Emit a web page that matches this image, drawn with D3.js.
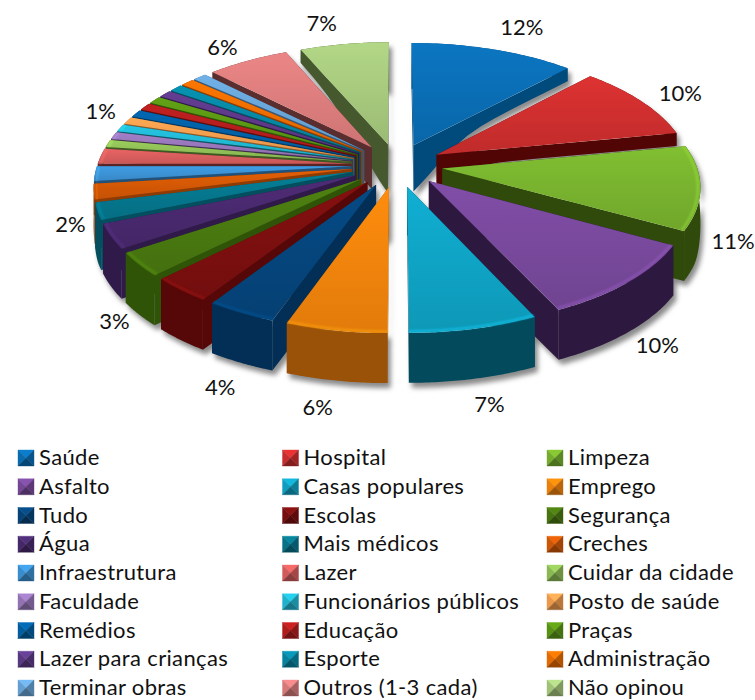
<!DOCTYPE html>
<html>
<head>
<meta charset="utf-8">
<script src="https://cdn.jsdelivr.net/npm/d3@7"></script>
<style>
  html, body { margin: 0; padding: 0; background: #fff; overflow: hidden; }
  text { font-family: Lato, "Open Sans", sans-serif; fill: #111; }
</style>
</head>
<body>
<div id="chart"></div>
<script>
// answers, in chart order (percent)
const categories = ['Saúde', 'Hospital', 'Limpeza', 'Asfalto', 'Casas populares', 'Emprego',
    'Tudo', 'Escolas', 'Segurança', 'Água', 'Mais médicos', 'Creches',
    'Infraestrutura', 'Lazer', 'Cuidar da cidade', 'Faculdade', 'Funcionários públicos', 'Posto de saúde',
    'Remédios', 'Educação', 'Praças', 'Lazer para crianças', 'Esporte', 'Administração',
    'Terminar obras', 'Outros (1-3 cada)', 'Não opinou'];
const values = [12, 10, 11, 10, 7, 5.5,
    3.8, 3.3, 3.1, 3.2, 2.2, 2,
    1.9, 2, 0.95, 0.95, 0.95, 0.95,
    0.95, 0.95, 0.95, 0.95, 0.95, 0.95,
    1, 6, 6.5];
const colors = ['#0a70b8', '#d22f2f', '#7ab52f', '#7a4a9e', '#0fa6c8', '#f7860c',
    '#05467e', '#7e0f0f', '#4a7a10', '#4a2a70', '#05788f', '#d85a05',
    '#3d95d8', '#dd5f5f', '#92c257', '#9a78bd', '#22bcd8', '#f9a04f',
    '#0062a8', '#b81e1e', '#5c9a14', '#5f3a8a', '#078aa8', '#f07000',
    '#6aa8dc', '#e07f7f', '#a9cc7f'];
const wallColors = ['#014a7c', '#520505', '#2f4a0a', '#2d1840', '#024a5c', '#9a5208',
    '#032e55', '#560808', '#2f5408', '#2f1a4a', '#034f60', '#8e3c04',
    '#22527a', '#5a2424', '#3e5a22', '#403050', '#0c5a68', '#8a5a2a',
    '#003a66', '#5e0c0c', '#2f5408', '#2f1a4a', '#034f60', '#8e3c04',
    '#38597a', '#5a2e2e', '#46592e'];
const labelTexts = ['12%', '10%', '11%', '10%', '7%', '6%', '4%', '3%', '2%', '1%', '6%', '7%'];
const labelSlices = [0, 1, 2, 3, 4, 5, 6, 8, 10, 15, 25, 26];
// the labels do not follow one rule in the original, so each gets a small shift
const labelShiftX = [20, 16, 1, 2, 6, -11, -2, 5, 5, 15, -12, -18];
const labelShiftY = [-13, -3, 20, 19, 25, 26, 26, 15, -23, -22, -5, -11];

const width = 755, height = 700;
const cx = 397, cy = 165, rx = 254, ry = 120.6, persp = 0.132;
const explode = 0.18, labelRadius = 1.3;

const svg = d3.select('#chart').append('svg')
    .attr('width', width)
    .attr('height', height);
const defs = svg.append('defs');

defs.append('filter').attr('id', 'soft')
    .attr('x', '-20%').attr('y', '-20%').attr('width', '140%').attr('height', '140%')
    .append('feGaussianBlur').attr('stdDeviation', 2.5);
defs.append('filter').attr('id', 'rim')
    .append('feGaussianBlur').attr('stdDeviation', 1);

// flat pie plane -> screen, the back of the pie shrinks a bit
function project(u, v) {
    const w = 1 / (1 - persp * v);
    return [cx + rx * u * w, cy + ry * v * w];
}

function smooth(t) {
    t = Math.max(0, Math.min(1, t));
    return t * t * (3 - 2 * t);
}

// thickness of the pie: thin at the back, thick at the front and along the middle
function depth(u, v) {
    const front = smooth((v + 0.1) / 0.5);
    const middle = Math.exp(-(u * u) / 0.04);
    return 13 + 37 * Math.max(front, middle);
}

function planePoint(slice, angle, r) {
    const mid = (slice.startAngle + slice.endAngle) / 2;
    return [explode * Math.sin(mid) + r * Math.sin(angle),
        -explode * Math.cos(mid) - r * Math.cos(angle)];
}

const topPoint = (slice, a, r) => project(...planePoint(slice, a, r));
function bottomPoint(slice, a, r) {
    const [u, v] = planePoint(slice, a, r);
    const p = project(u, v);
    return [p[0], p[1] + depth(u, v)];
}

const line = d3.line();
const pie = d3.pie().sort(null).value(d => d);

const slices = pie(values).map((s, i) => {
    const angles = d3.range(41).map(k => s.startAngle + (s.endAngle - s.startAngle) * k / 40);
    const radii = d3.range(13).map(k => k / 12);
    return {...s, i, angles, radii, mid: (s.startAngle + s.endAngle) / 2};
});

slices.forEach(s => {
    const grad = defs.append('linearGradient').attr('id', `top-${s.i}`)
        .attr('x1', 0).attr('y1', 0).attr('x2', 0).attr('y2', 1);
    grad.append('stop').attr('offset', 0).attr('stop-color', d3.rgb(colors[s.i]).brighter(0.15));
    grad.append('stop').attr('offset', 1).attr('stop-color', d3.rgb(colors[s.i]).darker(0.25));
});

function radialWall(s, a) {
    const upper = s.radii.map(r => topPoint(s, a, r));
    const lower = s.radii.map(r => bottomPoint(s, a, r)).reverse();
    return line(upper.concat(lower)) + 'Z';
}

function outerWall(s) {
    const upper = s.angles.map(a => topPoint(s, a, 1));
    const lower = s.angles.map(a => bottomPoint(s, a, 1)).reverse();
    return line(upper.concat(lower)) + 'Z';
}

function topFace(s) {
    const rim = s.angles.map(a => topPoint(s, a, 1));
    return line([topPoint(s, s.startAngle, 0)].concat(rim)) + 'Z';
}

// back slices first so the front ones paint over them
const order = slices.slice().sort((a, b) => Math.cos(b.mid) - Math.cos(a.mid));

const shadow = svg.append('g').attr('filter', 'url(#soft)').attr('transform', 'translate(3,5)');
order.forEach(s => {
    shadow.append('path').attr('d', outerWall(s)).attr('fill', '#8a8a8a');
    shadow.append('path').attr('d', radialWall(s, s.startAngle)).attr('fill', '#8a8a8a');
    shadow.append('path').attr('d', radialWall(s, s.endAngle)).attr('fill', '#8a8a8a');
});

const pieGroup = svg.append('g');
order.forEach(s => {
    const g = pieGroup.append('g');
    g.append('path').attr('d', radialWall(s, s.startAngle)).attr('fill', wallColors[s.i]);
    g.append('path').attr('d', radialWall(s, s.endAngle)).attr('fill', wallColors[s.i]);
    g.append('path').attr('d', outerWall(s)).attr('fill', wallColors[s.i]);
    g.append('path').attr('d', topFace(s)).attr('fill', `url(#top-${s.i})`);
    if (Math.cos(s.mid) < 0.3) {
        g.append('path')
            .attr('d', line(s.angles.map(a => topPoint(s, a, 0.99))))
            .attr('fill', 'none')
            .attr('stroke', d3.rgb(colors[s.i]).brighter(0.7))
            .attr('stroke-width', 2)
            .attr('opacity', 0.6)
            .attr('filter', 'url(#rim)');
    }
});

// percent labels sit outside the rim of their slice
labelTexts.forEach((t, i) => {
    const s = slices[labelSlices[i]];
    const [u, v] = planePoint(s, s.mid, labelRadius - explode);
    const [x, y] = project(u, v);
    const extra = Math.cos(s.mid) < 0 ? 30 : 0;
    svg.append('text')
        .attr('x', x + labelShiftX[i])
        .attr('y', y + extra + labelShiftY[i])
        .attr('text-anchor', 'middle')
        .attr('dominant-baseline', 'central')
        .attr('font-size', 22)
        .text(t);
});

// legend, 3 columns by 9 rows
const legendX = d3.scalePoint().domain([0, 1, 2]).range([18, 547]);
const legendY = d3.scalePoint().domain(d3.range(9)).range([465, 695]);
const box = 16;

categories.forEach((name, i) => {
    const col = i % 3, row = Math.floor(i / 3);
    const x = legendX(col), y = legendY(row) - 15;
    const g = svg.append('g').attr('transform', `translate(${x},${y})`);
    const c = d3.rgb(colors[i]);
    const m = box / 2;
    const tri = (pts, fill) => g.append('path').attr('d', line(pts) + 'Z')
        .attr('fill', fill).attr('stroke', fill).attr('stroke-width', 0.4);
    tri([[0, 0], [box, 0], [m, m]], c.brighter(0.3));
    tri([[0, 0], [0, box], [m, m]], c.darker(0.15));
    tri([[box, 0], [box, box], [m, m]], c.darker(0.8));
    tri([[0, box], [box, box], [m, m]], c.darker(1.3));
    svg.append('text')
        .attr('x', x + 21)
        .attr('y', legendY(row))
        .attr('font-size', 22)
        .attr('letter-spacing', 0.35)
        .text(name);
});
</script>
</body>
</html>
